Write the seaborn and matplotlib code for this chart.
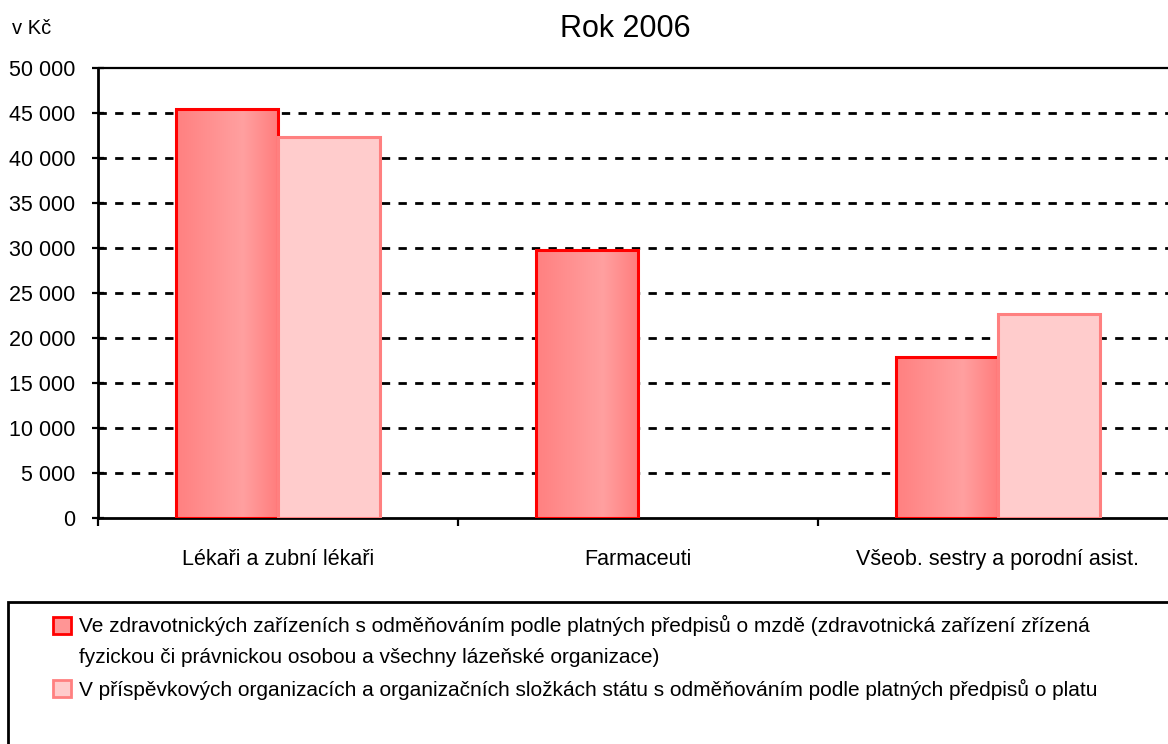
import numpy as np
import pandas as pd
import matplotlib
matplotlib.use("Agg")
import matplotlib.pyplot as plt
import seaborn as sns
from matplotlib.patches import Patch, Rectangle
from matplotlib.colors import LinearSegmentedColormap
from matplotlib.ticker import FuncFormatter, FixedLocator

categories = ["Lékaři a zubní lékaři", "Farmaceuti", "Všeob. sestry a porodní asist."]
series_names = [
    "Ve zdravotnických zařízeních s odměňováním podle platných předpisů o mzdě (zdravotnická zařízení zřízená\nfyzickou či právnickou osobou a všechny lázeňské organizace)",
    "V příspěvkových organizacích a organizačních složkách státu s odměňováním podle platných předpisů o platu",
]
values_mzda = [45400, 29800, 17900]
values_plat = [42300, np.nan, 22700]
yticks = [0, 5000, 10000, 15000, 20000, 25000, 30000, 35000, 40000, 45000, 50000]

sns.set_theme(style="white")
plt.rcParams['font.family'] = ['Liberation Sans', 'DejaVu Sans']

df = pd.DataFrame({
    "cat": categories * 2,
    "serie": [series_names[0]] * 3 + [series_names[1]] * 3,
    "val": values_mzda + values_plat,
})

W, H = 1168, 744
fig = plt.figure(figsize=(W / 100, H / 100), dpi=100)
ax = fig.add_axes([98 / W, 226 / H, 1080 / W, 450 / H])

sns.barplot(data=df, x="cat", y="val", hue="serie", hue_order=series_names,
            order=categories, palette=["#ff8c8c", "#ffcccc"], width=0.567,
            saturation=1, dodge=True, legend=False, ax=ax, zorder=3)

cmap = LinearSegmentedColormap.from_list("g", [(0, "#ff8080"), (0.65, "#ffa0a0"), (1, "#ff7c7c")])
grad = np.linspace(0, 1, 256).reshape(1, -1)
n = len(categories)
for i, p in enumerate(ax.patches):
    if i < n:
        p.set_edgecolor("#ff0000")
        p.set_linewidth(2.2)
        x0, y0 = p.get_x(), p.get_y()
        w, h = p.get_width(), p.get_height()
        im = ax.imshow(grad, extent=[x0, x0 + w, y0, y0 + h], aspect="auto",
                       cmap=cmap, zorder=2.5, interpolation="bicubic")
        im.set_clip_path(p)
        p.set_facecolor("none")
    else:
        p.set_facecolor("#ffcccc")
        p.set_edgecolor("#ff8080")
        p.set_linewidth(2.2)

ax.set_xlim(-0.5, 2.5)
ax.set_ylim(0, 50000)
ax.set_yticks(yticks)
ax.yaxis.set_major_formatter(FuncFormatter(lambda v, _: f"{int(v):,}".replace(",", " ")))
ax.set_xlabel("")
ax.set_ylabel("")

for v in yticks[1:-1]:
    ax.axhline(v, color="black", linestyle=(0, (3, 3)), linewidth=2.0, zorder=1)
ax.axhline(50000, color="black", linewidth=1.6, zorder=1, clip_on=False)

for s in ["top", "right"]:
    ax.spines[s].set_visible(False)
for s in ["left", "bottom"]:
    ax.spines[s].set_color("black")
    ax.spines[s].set_linewidth(2.0)

ax.tick_params(axis="y", direction="inout", length=9, width=1.6, colors="black",
               labelsize=15.5, pad=12, left=True)
ax.tick_params(axis="x", which="major", length=0, labelsize=15.5, pad=22)
ax.xaxis.set_minor_locator(FixedLocator([-0.5, 0.5, 1.5]))
ax.tick_params(axis="x", which="minor", direction="out", length=6, width=1.6,
               colors="black", bottom=True)
for lbl in ax.get_xticklabels() + ax.get_yticklabels():
    lbl.set_color("black")

ax.set_title("Rok 2006", fontsize=22, color="black", pad=22, x=0.488)
fig.text(12 / W, 1 - 28 / H, "v Kč", fontsize=14.5, color="black", va="center", ha="left")

# legend frame
fig.patches.append(Rectangle((8 / W, -0.05), 1.2, (744 - 602) / H + 0.05,
                             transform=fig.transFigure, facecolor="white",
                             edgecolor="black", linewidth=2.0, zorder=0))
line_parts = series_names[0].split("\n")
handles = [Patch(facecolor="#ff9595", edgecolor="#ff0000", linewidth=2.0),
           Patch(facecolor="none", edgecolor="none", linewidth=0),
           Patch(facecolor="#ffcccc", edgecolor="#ff8080", linewidth=2.0)]
labels = [line_parts[0], line_parts[1], series_names[1]]
leg = fig.legend(handles, labels, loc="upper left", bbox_to_anchor=(43 / W, 1 - 605 / H),
                 frameon=False, fontsize=15, handlelength=0.85, handleheight=0.85,
                 handletextpad=0.4, labelspacing=0.55, borderpad=0, labelcolor="black")

fig.savefig("out.png", dpi=100)
